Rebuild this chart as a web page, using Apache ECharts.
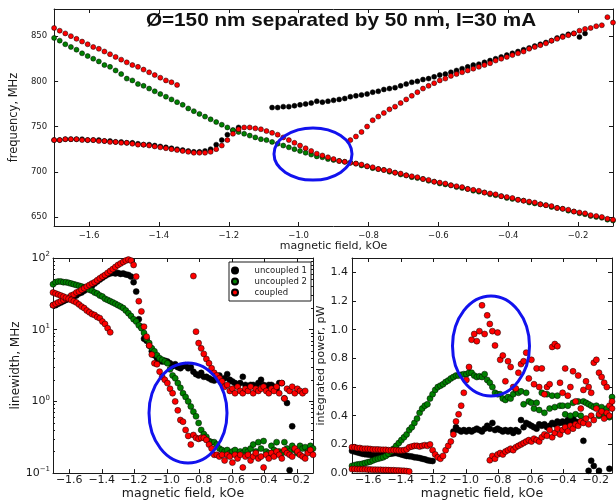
<!DOCTYPE html>
<html>
<head>
<meta charset="utf-8">
<script src="https://cdn.jsdelivr.net/npm/echarts@6/dist/echarts.min.js"></script>
<style>
html, body { margin: 0; padding: 0; background: #fff; }
#chart { width: 616px; height: 501px; }
</style>
</head>
<body>
<div id="chart"></div>
<script>
var _ = null;

// field sweep, kOe (shared by all three panels)
var field = [
    -1.700, -1.684, -1.668, -1.652, -1.636, -1.620, -1.604, -1.588, -1.572, -1.556,
    -1.540, -1.524, -1.508, -1.492, -1.476, -1.460, -1.444, -1.428, -1.412, -1.396,
    -1.380, -1.364, -1.348, -1.332, -1.316, -1.300, -1.284, -1.268, -1.252, -1.236,
    -1.220, -1.204, -1.188, -1.172, -1.156, -1.140, -1.124, -1.108, -1.092, -1.076,
    -1.060, -1.044, -1.028, -1.012, -0.996, -0.980, -0.964, -0.948, -0.932, -0.916,
    -0.900, -0.884, -0.868, -0.852, -0.836, -0.820, -0.804, -0.788, -0.772, -0.756,
    -0.740, -0.724, -0.708, -0.692, -0.676, -0.660, -0.644, -0.628, -0.612, -0.596,
    -0.580, -0.564, -0.548, -0.532, -0.516, -0.500, -0.484, -0.468, -0.452, -0.436,
    -0.420, -0.404, -0.388, -0.372, -0.356, -0.340, -0.324, -0.308, -0.292, -0.276,
    -0.260, -0.244, -0.228, -0.212, -0.196, -0.180, -0.164, -0.148, -0.132, -0.116,
    -0.100
];

// frequency, MHz
var freqBlack = [
    735, 735, 736, 736, 736, 736, 735, 735, 735, 734,
    734, 733, 733, 732, 732, 731, 730, 730, 729, 728,
    727, 726, 725, 724, 723, 722, 722, 723, 725, 730,
    735, 741, 746, 749, _, _, _, _, _, 771,
    771, 772, 772, 773, 774, 775, 776, 778, 777, 778,
    779, 780, 781, 783, 784, 785, 786, 788, 789, 791,
    792, 793, 795, 797, 799, 800, 802, 803, 805, 807,
    808, 810, 812, 814, 816, 818, 819, 821, 823, 825,
    827, 829, 831, 833, 835, 837, 839, 841, 843, 845,
    848, 850, 852, 853, 849, 853, _, _, _, _,
    _
];
var freqGreen = [
    848, 845, 841, 838, 835, 831, 828, 825, 822, 818,
    816, 812, 808, 803, 801, 797, 795, 792, 789, 786,
    783, 780, 777, 774, 770, 767, 764, 761, 758, 755,
    752, 749, 746, 744, 742, 740, 738, 736, 735, 733,
    731, 729, 727, 725, 723, 721, 719, 717, 716, 714,
    713, 712, 711, 710, 709, 707, 706, 704, 703, 702,
    700, 699, 697, 696, 694, 693, 692, 690, 689, 687,
    686, 685, 683, 682, 681, 679, 678, 677, 675, 674,
    673, 671, 670, 669, 668, 666, 665, 664, 663, 661,
    660, 659, 657, 656, 654, 653, 651, 650, 649, 647,
    646
];
var freqRedLow = [
    735, 735, 736, 736, 736, 735, 735, 735, 734, 734,
    733, 733, 732, 732, 731, 730, 730, 729, 728, 727,
    726, 725, 724, 723, 722, 721, 721, 721, 722, 725,
    729, 735, 742, 747, 749, 749, 748, 747, 745, 743,
    741, 738, 735, 732, 729, 726, 723, 720, 718, 716,
    714, 712, 711, 710, 709, 708, 706, 705, 703, 702,
    701, 699, 698, 696, 695, 694, 692, 691, 689, 688,
    687, 685, 684, 683, 681, 680, 679, 677, 676, 675,
    673, 672, 671, 669, 668, 667, 666, 664, 663, 662,
    660, 659, 658, 656, 655, 654, 652, 651, 650, 648,
    647
];
var freqRedHigh = [
    859, 856, 853, 850, 847, 844, 841, 838, 836, 833,
    830, 827, 824, 821, 818, 816, 813, 810, 807, 804,
    801, 799, 796, _, _, _, _, _, _, _,
    _, _, _, _, _, _, _, _, _, _,
    _, _, _, _, _, _, _, _, _, _,
    _, _, _, 735, 739, 744, 750, 757, 761, 765,
    769, 772, 776, 780, 784, 788, 792, 795, 798, 801,
    803, 806, 808, 810, 812, 814, 816, 818, 820, 823,
    825, 827, 829, 831, 833, 836, 838, 840, 842, 845,
    847, 849, 851, 853, 856, 858, 859, 861, 862, 871,
    865
];

// linewidth, MHz
var lwBlack = [
    22, 22, 23, 24, 25, 26, 27, 28, 29, 30,
    32, 33, 35, 37, 39, 41, 44, 47, 50, 53,
    56, 59, 61, 62, 61, 62, 60, 61, 59, 58,
    55, 46, 34, 14, 11, 7.5, 7, 6, 5, 4.4,
    4, 3.8, 3.6, 3.7, 3.6, 3.4, 3.1, 3.3, 3, 2.9,
    3.1, 3.2, 2.9, 3, 2.6, 2.4, 2.3, 2.5, 2.2, 2.2,
    2.1, 2, 1.95, 2.2, 2.3, 2, 2.1, 2.4, 2, 1.9,
    1.8, 1.7, 1.8, 2.2, 1.7, 1.6, 1.7, 1.7, 1.6, 1.8,
    2, 1.7, 1.6, 1.7, 1.7, 1.6, 1.5, 1.8, 1.8, 1.1,
    0.95, 0.11, 0.45, _, _, _, _, _, _, _,
    _
];
var lwGreen = [
    43, 46, 47, 47, 46, 46, 45, 44, 43, 42,
    41, 40, 39, 38, 36, 35, 33, 32, 30, 29,
    27, 26, 25, 24, 23, 22, 21, 20, 18.5, 17,
    15.5, 14, 13, 11.5, 10.5, 9, 7.5, 6.5, 5.5, 5,
    4.4, 4, 3.8, 3.6, 3.4, 2.8, 2.3, 2.1, 1.8, 1.55,
    1.3, 1.15, 1, 0.85, 0.72, 0.62, 0.5, 0.4, 0.35, 0.32,
    0.28, 0.27, 0.27, 0.25, 0.22, 0.21, 0.2, 0.21, 0.19, 0.2,
    0.21, 0.18, 0.2, 0.19, 0.21, 0.2, 0.22, 0.25, 0.2, 0.27,
    0.22, 0.28, 0.2, 0.19, 0.24, 0.21, 0.27, 0.2, 0.19, 0.27,
    0.22, 0.2, 0.24, 0.21, 0.19, 0.24, 0.22, 0.23, 0.2, 0.24,
    0.22
];
var lwRedLow = [
    22, 23, 24, 25, 26, 27, 28, 30, 31, 33,
    34, 36, 38, 40, 42, 44, 46, 49, 52, 55,
    58, 62, 66, 70, 75, 80, 84, 88, 92, 95,
    92, 80, 55, 25, 18, 11, 8, 6, 4.5, 3.4,
    3.3, 2.6, 2.2, 2, 1.8, 1.5, 1.3, 1, 0.75, 0.55,
    0.52, 0.4, 0.33, 0.25, 0.34, 0.31, 0.3, 0.31, 0.31, 0.29,
    0.25, 0.22, 0.18, 0.18, 0.17, 0.18, 0.15, 0.18, 0.17, 0.14,
    0.18, 0.16, 0.18, 0.12, 0.17, 0.18, 0.15, 0.17, 0.19, 0.16,
    0.17, 0.12, 0.18, 0.16, 0.19, 0.17, 0.2, 0.18, 0.16, 0.21,
    0.19, 0.18, 0.17, 0.22, 0.2, 0.18, 0.17, 0.16, 0.19, 0.21,
    0.18
];
var lwRedHigh = [
    33, 32, 31, 30, 29, 28, 27, 26, 25, 24,
    22.5, 21, 20, 18.5, 17.5, 16.5, 16, 15, 14.5, 13,
    12, 10.5, 9.2, _, _, _, _, _, _, _,
    _, _, _, _, _, _, _, _, _, _,
    _, _, _, _, _, _, _, _, _, _,
    _, _, _, _, 56, 9.4, 6.5, 5.5, 4.6, 3.9,
    3.4, 2.9, 2.5, 2.3, 2.1, 1.9, 1.6, 1.7, 1.4, 1.5,
    1.3, 1.6, 1.4, 1.3, 1.5, 1.4, 1.6, 1.3, 1.5, 1.4,
    1.5, 1.6, 1.4, 1.3, 1.5, 1.4, 1.6, 1.3, 1.8, 1.1,
    1.5, 1.4, 1.6, 1.3, 1.5, 1.4, 1.3, 1.4, _, _,
    _
];

// integrated power, pW
var powBlack = [
    0.155, 0.15, 0.145, 0.14, 0.135, 0.132, 0.13, 0.128, 0.125, 0.125,
    0.125, 0.126, 0.128, 0.13, 0.132, 0.135, 0.138, 0.14, 0.135, 0.13,
    0.125, 0.12, 0.118, 0.115, 0.11, 0.108, 0.105, 0.1, 0.096, 0.09,
    0.086, 0.084, _, _, _, _, _, _, _, 0.29,
    0.32, 0.3, 0.29, 0.3, 0.29, 0.3, 0.29, 0.3, 0.31, 0.3,
    0.29, 0.31, 0.33, 0.31, 0.35, 0.3, 0.31, 0.3, 0.29, 0.3,
    0.29, 0.3, 0.28, 0.3, 0.29, 0.37, 0.32, 0.35, 0.34, 0.33,
    0.32, 0.31, 0.34, 0.33, 0.34, 0.32, 0.33, 0.35, 0.34, 0.36,
    0.35, 0.36, 0.34, 0.37, 0.35, 0.38, 0.36, 0.35, 0.36, 0.225,
    _, 0.016, 0.086, 0.05, _, 0.016, _, _, _, 0.03,
    _
];
var powGreen = [
    0.05, 0.055, 0.06, 0.062, 0.065, 0.07, 0.075, 0.08, 0.088, 0.095,
    0.1, 0.105, 0.11, 0.12, 0.135, 0.15, 0.17, 0.19, 0.21, 0.23,
    0.25, 0.27, 0.3, 0.32, 0.35, 0.38, 0.42, 0.45, 0.47, 0.48,
    0.52, 0.55, 0.58, 0.6, 0.61, 0.62, 0.635, 0.645, 0.66, 0.67,
    0.68, 0.68, 0.685, 0.69, 0.69, 0.7, 0.7, 0.68, 0.67, 0.675,
    0.67, 0.69, 0.65, 0.63, 0.6, 0.56, 0.55, 0.55, 0.52, 0.51,
    0.53, 0.52, 0.55, 0.58, 0.56, 0.57, 0.48, 0.56, 0.5, 0.49,
    0.45, 0.49, 0.44, 0.56, 0.42, 0.55, 0.45, 0.54, 0.46, 0.54,
    0.47, 0.47, 0.41, 0.47, 0.4, 0.49, 0.41, 0.5, 0.4, 0.5,
    0.49, 0.48, 0.47, 0.46, 0.47, 0.4, 0.46, 0.41, 0.45, 0.39,
    0.53
];
var powRedLow = [
    0.18, 0.18, 0.175, 0.175, 0.17, 0.17, 0.17, 0.168, 0.165, 0.165,
    0.165, 0.163, 0.162, 0.162, 0.16, 0.16, 0.16, 0.16, 0.158, 0.158,
    0.16, 0.165, 0.18, 0.185, 0.19, 0.19, 0.185, 0.19, 0.195, 0.19,
    0.2, 0.16, 0.13, 0.11, 0.1, 0.12, 0.16, 0.19, 0.22, 0.27,
    0.36, 0.41, 0.47, 0.56, 0.65, 0.74, 0.93, 0.97, 0.92, 0.99,
    1.17, 0.97, 1.1, 1.04, 0.99, 0.89, 0.98, 0.79, 0.82, 0.64,
    0.78, 0.74, 0.6, 0.59, 0.7, 0.76, 0.78, 0.84, 0.66, 0.79,
    0.62, 0.73, 0.6, 0.73, 0.55, 0.6, 0.62, 0.88, 0.9, 0.885,
    0.63, 0.56, 0.73, 0.54, 0.6, 0.71, 0.5, 0.68, 0.45, 0.58,
    0.64, 0.6, 0.56, 0.77, 0.79, 0.7, 0.67, 0.63, 0.6, 0.47,
    0.45
];
var powRedHigh = [
    0.028, 0.028, 0.027, 0.027, 0.026, 0.026, 0.025, 0.025, 0.024, 0.024,
    0.023, 0.023, 0.022, 0.022, 0.021, 0.02, 0.02, 0.019, 0.018, 0.017,
    0.016, 0.014, 0.012, _, _, _, _, _, _, _,
    _, _, _, _, _, _, _, _, _, _,
    _, _, _, _, _, _, _, _, _, _,
    _, _, _, 0.09, 0.12, 0.1, 0.13, 0.14, 0.13, 0.15,
    0.16, 0.17, 0.16, 0.18, 0.19, 0.2, 0.21, 0.22, 0.23, 0.22,
    0.24, 0.23, 0.22, 0.25, 0.27, 0.26, 0.3, 0.25, 0.28, 0.31,
    0.27, 0.3, 0.32, 0.29, 0.33, 0.31, 0.34, 0.33, 0.36, 0.35,
    0.38, 0.34, 0.4, 0.37, 0.45, 0.41, 0.43, 0.38, 0.42, 0.4,
    0.5
];

// tick labels
var xTicks = [-1.6, -1.4, -1.2, -1.0, -0.8, -0.6, -0.4, -0.2];
var freqTicks = [650, 700, 750, 800, 850];
var lwTicks = [0.1, 1, 10, 100];
var powTicks = [0, 0.2, 0.4, 0.6, 0.8, 1.0, 1.2, 1.4];

var font = 'DejaVu Sans';
var ink = '#1a1a1a';

function pts(values) {
    var out = [];
    for (var i = 0; i < field.length; i++) {
        if (values[i] != null) out.push([field[i], values[i]]);
    }
    return out;
}

function fmtMinus(v) {
    return (v < 0 ? '\u2212' : '') + Math.abs(v).toFixed(1);
}

// bottom axis with labels + top axis with ticks only
function xPair(gi, labelSize, margin, nameSize, nameGap) {
    var base = {
        type: 'value', gridIndex: gi, min: -1.7, max: -0.1,
        splitLine: { show: false },
        axisLine: { onZero: false, lineStyle: { color: ink } },
        axisTick: { inside: true, length: 4, customValues: xTicks, lineStyle: { color: ink } }
    };
    return [
        Object.assign({}, base, {
            position: 'bottom',
            axisLabel: { customValues: xTicks, formatter: fmtMinus, fontSize: labelSize, fontFamily: font, color: ink, margin: margin },
            name: 'magnetic field, kOe', nameLocation: 'middle', nameGap: nameGap,
            nameTextStyle: { fontSize: nameSize, fontFamily: font, color: ink }
        }),
        Object.assign({}, base, { position: 'top', axisLabel: { show: false } })
    ];
}

function yPair(gi, opts) {
    var base = {
        type: opts.type || 'value', gridIndex: gi, min: opts.min, max: opts.max,
        splitLine: { show: false },
        axisLine: { onZero: false, lineStyle: { color: ink } },
        axisTick: { inside: true, length: 4, customValues: opts.ticks, lineStyle: { color: ink } }
    };
    if (opts.type === 'log') {
        base.logBase = 10;
        base.minorTick = { show: true, splitNumber: 9, length: 2, lineStyle: { color: ink } };
    }
    return [
        Object.assign({}, base, {
            position: 'left',
            axisLabel: Object.assign({ customValues: opts.ticks, fontSize: opts.labelSize, fontFamily: font, color: ink, margin: opts.margin }, opts.label || {}),
            name: opts.name, nameLocation: 'middle', nameGap: opts.nameGap,
            nameTextStyle: { fontSize: opts.nameSize, fontFamily: font, color: ink }
        }),
        Object.assign({}, base, { position: 'right', axisLabel: { show: false } })
    ];
}

function dots(name, gi, values, color, size) {
    return {
        type: 'scatter', name: name,
        xAxisIndex: gi * 2, yAxisIndex: gi * 2,
        data: pts(values), symbolSize: size,
        itemStyle: { color: color, borderColor: '#000', borderWidth: 0.5, opacity: 1 },
        emphasis: { disabled: true },
        animation: false
    };
}

var black = '#000000', green = '#008000', red = '#ff0000';

var chart = echarts.init(document.getElementById('chart'));
var option = {
    backgroundColor: '#fff',
    animation: false,
    grid: [
        { left: 52, top: 9, width: 561, height: 217 },
        { left: 53, top: 258, width: 260, height: 218 },
        { left: 352, top: 258, width: 260, height: 218 }
    ],
    xAxis: [].concat(
        xPair(0, 8.5, 5, 11, 13),
        xPair(1, 11, 2, 12.5, 9),
        xPair(2, 11, 2, 12.5, 9)
    ),
    yAxis: [].concat(
        yPair(0, { min: 640, max: 880, ticks: freqTicks, labelSize: 8.5, margin: 7,
            name: 'frequency, MHz', nameSize: 11.5, nameGap: 26 }),
        yPair(1, { type: 'log', min: 0.1, max: 100, ticks: lwTicks, labelSize: 11, margin: 3,
            name: 'linewidth, MHz', nameSize: 12, nameGap: 26,
            label: {
                formatter: function (v) {
                    var e = Math.round(Math.log10(v));
                    return '{b|10}{s|' + (e < 0 ? '\u2212' + (-e) : e) + '}';
                },
                rich: {
                    b: { fontSize: 11, fontFamily: font, color: ink, lineHeight: 14 },
                    s: { fontSize: 7, fontFamily: font, color: ink, lineHeight: 8, verticalAlign: 'top' }
                }
            } }),
        yPair(2, { min: 0, max: 1.5, ticks: powTicks, labelSize: 11, margin: 4,
            name: 'integrated power, pW', nameSize: 11, nameGap: 23,
            label: { formatter: function (v) { return v.toFixed(1); } } })
    ),
    legend: {
        data: ['uncoupled 1', 'uncoupled 2', 'coupled'],
        orient: 'vertical', left: 229, top: 262,
        icon: 'circle', itemWidth: 9, itemHeight: 6, itemGap: 2,
        padding: [4, 4, 4, 2],
        backgroundColor: '#fff', borderColor: ink, borderWidth: 1,
        selectedMode: false,
        textStyle: { fontSize: 8.5, fontFamily: font, color: ink, padding: [0, 0, 0, 10] }
    },
    series: [
        dots('uncoupled 1', 0, freqBlack, black, 5),
        dots('uncoupled 2', 0, freqGreen, green, 5),
        dots('coupled', 0, freqRedLow, red, 5),
        dots('coupled', 0, freqRedHigh, red, 5),

        dots('uncoupled 1', 1, lwBlack, black, 6),
        dots('uncoupled 2', 1, lwGreen, green, 6),
        dots('coupled', 1, lwRedLow, red, 6),
        dots('coupled', 1, lwRedHigh, red, 6),

        dots('uncoupled 1', 2, powBlack, black, 6),
        dots('uncoupled 2', 2, powGreen, green, 6),
        dots('coupled', 2, powRedLow, red, 6),
        dots('coupled', 2, powRedHigh, red, 6)
    ],
    graphic: [
        {
            type: 'text', x: 341, y: 21, z: 100, scaleX: 1.09,
            style: {
                text: '\u00d8=150 nm separated by 50 nm, I=30 mA',
                fontSize: 19, fontWeight: 'bold', fontFamily: 'Liberation Sans, Arial, sans-serif',
                fill: '#111', align: 'center', verticalAlign: 'middle'
            }
        },
        // blue marks drawn over the crossing regions
        { type: 'ellipse', z: 100, shape: { cx: 313, cy: 154, rx: 39, ry: 26 }, style: { fill: 'none', stroke: '#1212ee', lineWidth: 3 } },
        { type: 'ellipse', z: 100, shape: { cx: 188, cy: 413, rx: 39, ry: 50 }, style: { fill: 'none', stroke: '#1212ee', lineWidth: 3 } },
        { type: 'ellipse', z: 100, shape: { cx: 491, cy: 346, rx: 38.5, ry: 50 }, style: { fill: 'none', stroke: '#1212ee', lineWidth: 3 } }
    ]
};
chart.setOption(option);
</script>
</body>
</html>
